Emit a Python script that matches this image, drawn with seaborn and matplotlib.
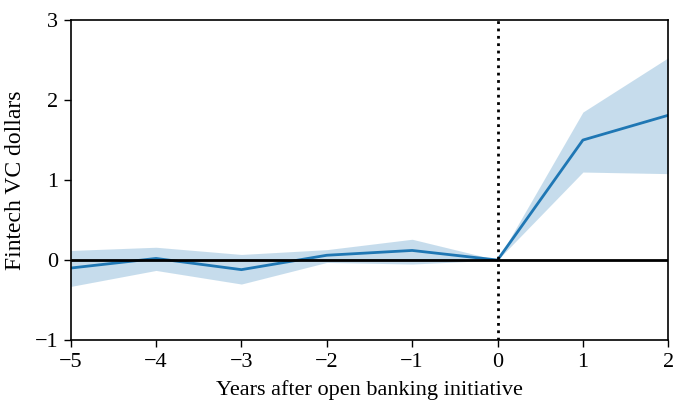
import numpy as np
import pandas as pd
import matplotlib
matplotlib.use("Agg")
import matplotlib.pyplot as plt
import seaborn as sns

years = [-5, -4, -3, -2, -1, 0, 1, 2]
estimate = [-0.10, 0.02, -0.12, 0.06, 0.12, 0.0, 1.50, 1.81]
ci_upper = [0.12, 0.16, 0.07, 0.13, 0.26, 0.0, 1.85, 2.53]
ci_lower = [-0.33, -0.13, -0.30, -0.03, -0.05, 0.0, 1.10, 1.08]

sns.set_style("ticks")
plt.rcParams['font.family'] = ['Liberation Serif', 'DejaVu Serif']
plt.rcParams['text.color'] = 'black'
plt.rcParams['axes.labelcolor'] = 'black'

df = pd.DataFrame({'year': years, 'est': estimate, 'lo': ci_lower, 'hi': ci_upper})

fig, ax = plt.subplots(figsize=(6.73, 4.01), dpi=100)
ax.fill_between(df['year'], df['lo'], df['hi'], color='#1f77b4', alpha=0.25, linewidth=0)
sns.lineplot(data=df, x='year', y='est', color='#1f77b4', linewidth=2, ax=ax)
ax.axhline(0, color='black', linewidth=2)
ax.axvline(0, color='black', linewidth=2, linestyle=':')

ax.set_xlim(-5, 2)
ax.set_ylim(-1, 3)
ax.set_xticks(years)
ax.set_yticks([-1, 0, 1, 2, 3])
ax.set_xticklabels(['\u22125', '\u22124', '\u22123', '\u22122', '\u22121', '0', '1', '2'])
ax.set_yticklabels(['\u22121', '0', '1', '2', '3'])
ax.tick_params(labelsize=16, direction='out', length=5, width=1, colors='black', pad=4)
ax.set_xlabel('Years after open banking initiative', fontsize=16, labelpad=6, color='black')
ax.set_ylabel('Fintech VC dollars', fontsize=17, labelpad=6, color='black')
for s in ax.spines.values():
    s.set_visible(True)
    s.set_linewidth(1.2)
    s.set_color('black')

fig.subplots_adjust(left=0.105, right=0.993, top=0.95, bottom=0.152)
fig.savefig('out.png', dpi=100)
